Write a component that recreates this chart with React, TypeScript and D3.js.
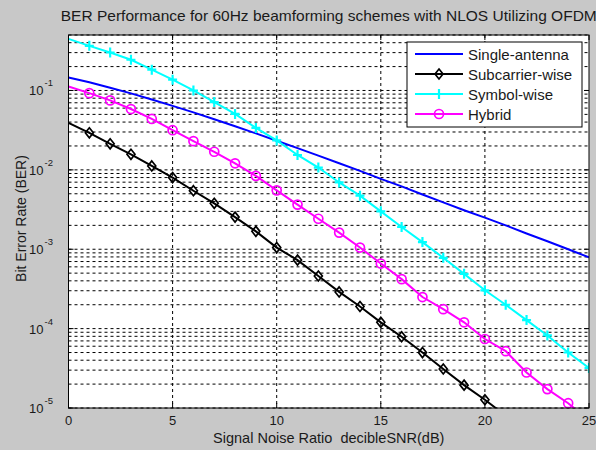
import React from "react";
import * as d3 from "d3";

// SNR points in dB
const snr = d3.range(0, 26);

// BER, one value per dB
const singleAntenna = [
  0.146, 0.127, 0.108, 0.092, 0.077, 0.064, 0.053, 0.0435, 0.0355, 0.0288,
  0.0233, 0.0188, 0.0151, 0.0121, 0.0097, 0.0077, 0.0062, 0.0049, 0.0039,
  0.0031, 0.0025, 0.002, 0.00158, 0.00126, 0.001, 0.00079,
];
const subcarrierWise = [
  0.039, 0.0293, 0.0213, 0.0157, 0.0112, 0.008, 0.00546, 0.00379, 0.00254,
  0.00168, 0.00105, 0.00073, 0.00046, 0.00029, 0.00019, 0.00012, 7.9e-5,
  5.0e-5, 3.1e-5, 1.94e-5, 1.27e-5, 8.0e-6, 5.0e-6, 3.2e-6, 2.0e-6, 1.3e-6,
];
const symbolWise = [
  0.447, 0.365, 0.301, 0.244, 0.183, 0.137, 0.1, 0.0714, 0.0506, 0.0338,
  0.0235, 0.0154, 0.0107, 0.00694, 0.00473, 0.003, 0.00191, 0.00123, 0.00078,
  0.00049, 0.000304, 0.0002, 0.000128, 8.2e-5, 5.0e-5, 3.2e-5,
];
const hybrid = [
  0.112, 0.0926, 0.075, 0.0584, 0.0438, 0.0316, 0.023, 0.0169, 0.0121, 0.0084,
  0.00552, 0.00365, 0.00242, 0.00162, 0.00105, 0.00066, 0.00042, 0.00025,
  0.000176, 0.00012, 7.4e-5, 5.2e-5, 2.8e-5, 1.73e-5, 1.15e-5, 7.0e-6,
];

const seriesNames = ["Single-antenna", "Subcarrier-wise", "Symbol-wise", "Hybrid"];
const seriesColors = ["#0000ff", "#000000", "#00ffff", "#ff00ff"];
const seriesMarkers = ["none", "diamond", "plus", "circle"];
const seriesValues = [singleAntenna, subcarrierWise, symbolWise, hybrid];

const xTicks = [0, 5, 10, 15, 20, 25];
const yExponents = [-1, -2, -3, -4, -5];

const W = 596;
const H = 450;
const plot = { left: 68.5, right: 589, top: 35, bottom: 408 };
const font = "Arial, 'Liberation Sans', sans-serif";
const textColor = "#1a1a1a";

const Marker = ({ kind, color, x, y }) => {
  if (kind === "diamond")
    return (
      <path
        d={`M${x},${y - 5}L${x + 4},${y}L${x},${y + 5}L${x - 4},${y}Z`}
        fill="none"
        stroke={color}
        strokeWidth={1.7}
      />
    );
  if (kind === "circle")
    return <circle cx={x} cy={y} r={4.5} fill="none" stroke={color} strokeWidth={1.7} />;
  if (kind === "plus")
    return (
      <path
        d={`M${x - 4.5},${y}H${x + 4.5}M${x},${y - 5}V${y + 5}`}
        stroke={color}
        strokeWidth={2.2}
      />
    );
  return null;
};

export default function App() {
  const x = d3.scaleLinear().domain([0, 25]).range([plot.left, plot.right]);
  const y = d3.scaleLog().domain([1e-5, 0.5]).range([plot.bottom, plot.top]);

  const line = d3
    .line<number>()
    .x((_, i) => x(snr[i]))
    .y((d) => y(d));

  // minor + major grid values on the log axis
  const yGrid: number[] = [];
  for (let e = -5; e <= -1; e++) {
    for (let m = 1; m <= 9; m++) {
      const v = m * Math.pow(10, e);
      if (v >= 1e-5 && v <= 0.5) yGrid.push(v);
    }
  }

  const legend = { x: 407, y: 42, w: 175, h: 85 };

  return (
    <svg
      width={W}
      height={H}
      style={{ position: "absolute", left: 0, top: 0 }}
      fontFamily={font}
    >
      <rect x={0} y={0} width={W} height={H} fill="#c8c8c8" />
      <rect
        x={plot.left}
        y={plot.top}
        width={plot.right - plot.left}
        height={plot.bottom - plot.top}
        fill="#ffffff"
      />
      <defs>
        <clipPath id="plotClip">
          <rect
            x={plot.left}
            y={plot.top}
            width={plot.right - plot.left}
            height={plot.bottom - plot.top}
          />
        </clipPath>
      </defs>

      {/* grid */}
      <g stroke="#000" strokeWidth={1} strokeDasharray="3,3" fill="none">
        {xTicks.slice(1, -1).map((t) => (
          <line key={t} x1={x(t)} x2={x(t)} y1={plot.top} y2={plot.bottom} />
        ))}
        {yGrid.map((v) => (
          <line key={v} x1={plot.left} x2={plot.right} y1={y(v)} y2={y(v)} />
        ))}
      </g>

      {/* ticks */}
      <g stroke="#000" strokeWidth={1}>
        {xTicks.map((t) => (
          <g key={t}>
            <line x1={x(t)} x2={x(t)} y1={plot.bottom} y2={plot.bottom - 5} />
            <line x1={x(t)} x2={x(t)} y1={plot.top} y2={plot.top + 5} />
          </g>
        ))}
        {yExponents.map((e) => (
          <g key={e}>
            <line x1={plot.left} x2={plot.left + 5} y1={y(Math.pow(10, e))} y2={y(Math.pow(10, e))} />
            <line x1={plot.right} x2={plot.right - 5} y1={y(Math.pow(10, e))} y2={y(Math.pow(10, e))} />
          </g>
        ))}
      </g>

      {/* series */}
      <g clipPath="url(#plotClip)">
        {seriesValues.map((vals, si) => (
          <g key={si}>
            <path d={line(vals) || ""} fill="none" stroke={seriesColors[si]} strokeWidth={2} />
            {vals.map((v, i) =>
              i === 0 ? null : (
                <Marker key={i} kind={seriesMarkers[si]} color={seriesColors[si]} x={x(snr[i])} y={y(v)} />
              )
            )}
          </g>
        ))}
      </g>

      {/* frame */}
      <rect
        x={plot.left}
        y={plot.top}
        width={plot.right - plot.left}
        height={plot.bottom - plot.top}
        fill="none"
        stroke="#000"
        strokeWidth={1}
      />

      {/* tick labels */}
      <g fontSize={13} fill={textColor}>
        {xTicks.map((t) => (
          <text key={t} x={x(t)} y={425} textAnchor="middle">
            {t}
          </text>
        ))}
        {yExponents.map((e) => (
          <text key={e} x={53} y={y(Math.pow(10, e)) + 5} textAnchor="end">
            10
            <tspan fontSize={9.5} dx={1} dy={-9}>
              {e}
            </tspan>
          </text>
        ))}
      </g>

      {/* title and axis labels */}
      <text
        x={(plot.left + plot.right) / 2}
        y={21}
        textAnchor="middle"
        fontSize={15}
        fill={textColor}
        textLength={536}
        lengthAdjust="spacingAndGlyphs"
      >
        BER Performance for 60Hz beamforming schemes with NLOS Utilizing OFDM
      </text>
      <text
        x={(plot.left + plot.right) / 2}
        y={443}
        textAnchor="middle"
        fontSize={14.5}
        fill={textColor}
      >
        {"Signal Noise Ratio\u00a0 decibleSNR(dB)"}
      </text>
      <text
        transform={`translate(26,${(plot.top + plot.bottom) / 2 - 3}) rotate(-90)`}
        textAnchor="middle"
        fontSize={14}
        fill={textColor}
      >
        Bit Error Rate (BER)
      </text>

      {/* legend */}
      <g>
        <rect x={legend.x} y={legend.y} width={legend.w} height={legend.h} fill="#fff" stroke="#000" strokeWidth={1} />
        {seriesNames.map((name, i) => {
          const ly = legend.y + 12 + i * 20;
          return (
            <g key={name}>
              <line x1={415} x2={463} y1={ly} y2={ly} stroke={seriesColors[i]} strokeWidth={2} />
              <Marker kind={seriesMarkers[i]} color={seriesColors[i]} x={439} y={ly} />
              <text x={468} y={ly + 5.5} fontSize={15} fill={textColor}>
                {name}
              </text>
            </g>
          );
        })}
      </g>
    </svg>
  );
}
